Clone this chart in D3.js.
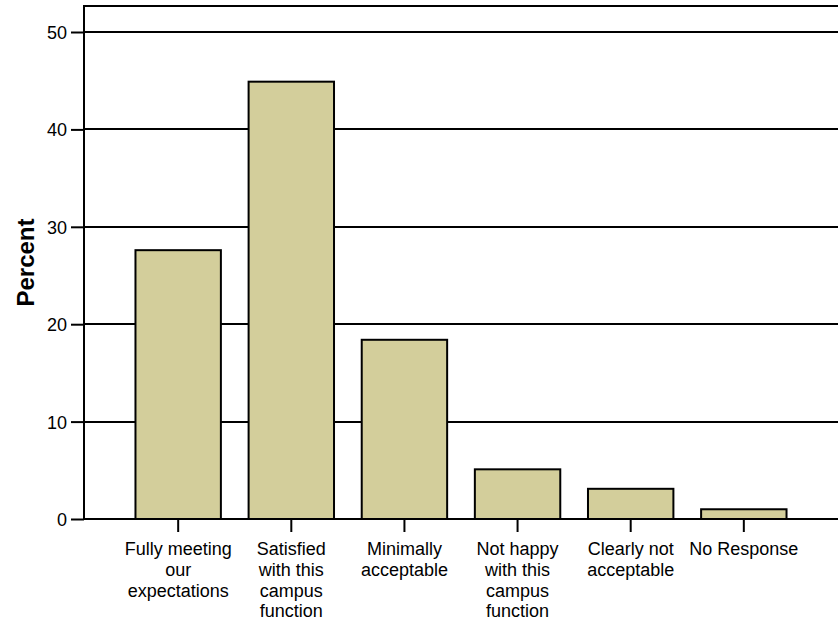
<!DOCTYPE html>
<html>
<head>
<meta charset="utf-8">
<script src="https://cdn.jsdelivr.net/npm/d3@7"></script>
<style>
  html, body { margin: 0; padding: 0; background: #fff; }
  svg { display: block; }
  text { font-family: "Liberation Sans", Arial, sans-serif; fill: #000; }
</style>
</head>
<body>
<svg id="chart" width="838" height="624"></svg>
<script>
const categories = [
  "Fully meeting\nour\nexpectations",
  "Satisfied\nwith this\ncampus\nfunction",
  "Minimally\nacceptable",
  "Not happy\nwith this\ncampus\nfunction",
  "Clearly not\nacceptable",
  "No Response"
];
const percents = [27.6, 44.9, 18.4, 5.1, 3.1, 1.0];
const yTicks = [0, 10, 20, 30, 40, 50];
const yTitle = "Percent";

const svg = d3.select("#chart");
const pLeft = 84, pRight = 838, pTop = 6, pBottom = 519;

const x = d3.scaleBand().domain(categories).range([pLeft, pRight])
  .paddingInner(0.245).paddingOuter(0.455);
const y = d3.scaleLinear().domain([0, 52.67]).range([pBottom, pTop]);

// gridlines
svg.append("g").selectAll("line").data(yTicks.filter(d => d > 0)).join("line")
  .attr("x1", pLeft).attr("x2", pRight)
  .attr("y1", d => Math.round(y(d))).attr("y2", d => Math.round(y(d)))
  .attr("stroke", "#000").attr("stroke-width", 2);

// top frame
svg.append("line").attr("x1", pLeft).attr("x2", pRight).attr("y1", pTop).attr("y2", pTop)
  .attr("stroke", "#000").attr("stroke-width", 2);

// bars
svg.append("g").selectAll("rect").data(categories).join("rect")
  .attr("x", d => x(d))
  .attr("y", (d, i) => y(percents[i]))
  .attr("width", x.bandwidth())
  .attr("height", (d, i) => y(0) - y(percents[i]))
  .attr("fill", "#d3ce9b")
  .attr("stroke", "#000").attr("stroke-width", 2);

// y axis
const yAxis = d3.axisLeft(y).tickValues(yTicks).tickSize(13).tickPadding(4).tickSizeOuter(0);
const gy = svg.append("g").attr("transform", `translate(${pLeft},0)`).call(yAxis);
gy.select(".domain").remove();
gy.selectAll(".tick line").attr("stroke", "#000").attr("stroke-width", 2);
gy.selectAll(".tick text").attr("font-size", 18).attr("font-family", "Liberation Sans, Arial, sans-serif").attr("fill", "#000").attr("dy", "0.36em");
svg.append("line").attr("x1", pLeft).attr("x2", pLeft).attr("y1", pTop - 1).attr("y2", pBottom + 1)
  .attr("stroke", "#000").attr("stroke-width", 2);

// x axis
const xAxis = d3.axisBottom(x).tickSize(13).tickSizeOuter(0).tickFormat("");
const gx = svg.append("g").attr("transform", `translate(0,${pBottom})`).call(xAxis);
gx.select(".domain").remove();
gx.selectAll(".tick line").attr("stroke", "#000").attr("stroke-width", 2);
svg.append("line").attr("x1", pLeft).attr("x2", pRight).attr("y1", pBottom).attr("y2", pBottom)
  .attr("stroke", "#000").attr("stroke-width", 2);

// x labels
const lab = svg.append("g");
categories.forEach(c => {
  const cx = x(c) + x.bandwidth() / 2;
  const t = lab.append("text").attr("text-anchor", "middle").attr("font-size", 18);
  c.split("\n").forEach((ln, j) => {
    t.append("tspan").attr("x", cx).attr("y", 555 + j * 20.8).text(ln);
  });
});

// y title
svg.append("text").attr("transform", `translate(34,${(pTop + pBottom) / 2}) rotate(-90)`)
  .attr("text-anchor", "middle").attr("font-size", 24).attr("font-weight", "bold")
  .text(yTitle);
</script>
</body>
</html>
